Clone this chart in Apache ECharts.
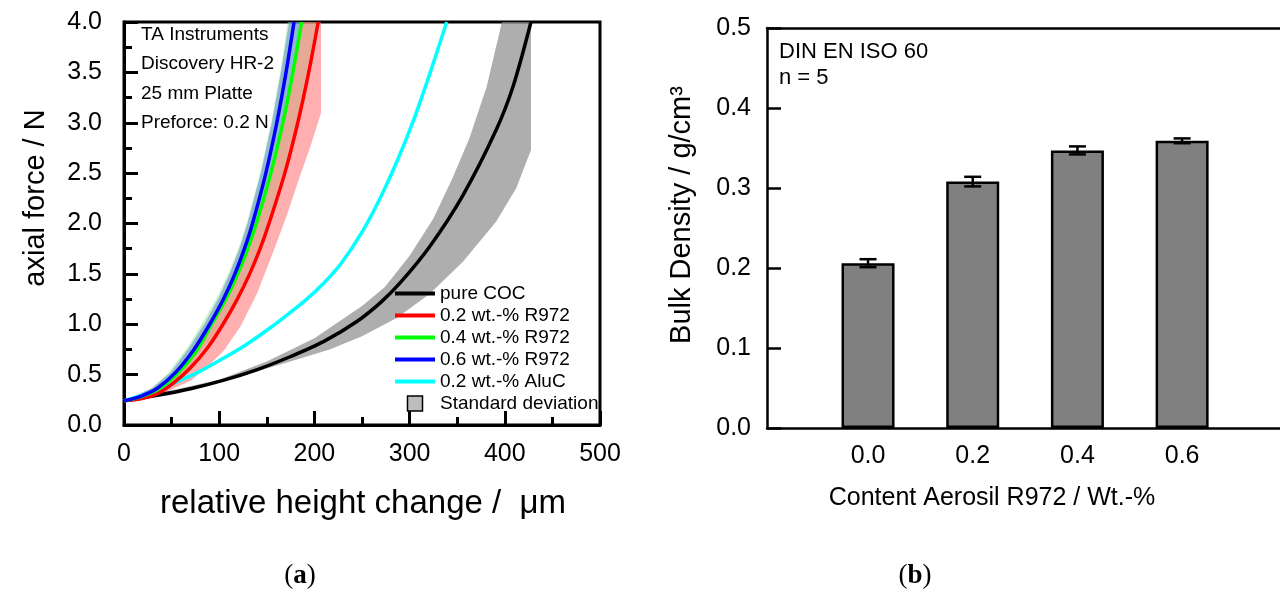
<!DOCTYPE html>
<html><head><meta charset="utf-8">
<script src="https://cdn.jsdelivr.net/npm/echarts@6/dist/echarts.min.js"></script>
<style>html,body{margin:0;padding:0;background:#fff}#c{width:1280px;height:592px}</style>
</head><body><div id="c"></div>
<script>
const FONT = '"Liberation Sans", Arial, sans-serif';
const SERIF = '"Liberation Serif", "DejaVu Serif", serif';

// ---------- Panel (a): axial force vs relative height change ----------
const seriesNames = ['pure COC', '0.2 wt.-% R972', '0.4 wt.-% R972', '0.6 wt.-% R972', '0.2 wt.-% AluC'];
const seriesColors = ['#000000', '#ff0000', '#00ff00', '#0000ff', '#00ffff'];
const stdLabel = 'Standard deviation';
const annotationA = ['TA Instruments', 'Discovery HR-2', '25 mm Platte', 'Preforce: 0.2 N'];

const pureCOC = [[0,0.24],[35,0.295],[70,0.36],[105,0.445],[140,0.55],[175,0.68],[210,0.83],[245,1.03],[270,1.22],[290,1.41],[321,1.77],[356,2.28],[391,2.93],[409,3.37],[427.5,4.0]];
const r972_02 = [[0,0.24],[17.5,0.26],[35,0.31],[52.5,0.42],[70,0.57],[88,0.77],[104,1.0],[119,1.25],[132,1.5],[143,1.75],[152.3,2.0],[168.9,2.5],[182.5,3.0],[194,3.5],[204,4.0]];
const r972_04 = [[0,0.24],[17.5,0.28],[35,0.35],[55,0.50],[75,0.72],[92,1.0],[107,1.25],[119.5,1.5],[130,1.75],[139,2.0],[154.3,2.5],[166.9,3.0],[177.4,3.5],[186.6,4.0]];
const r972_06 = [[0,0.24],[17.5,0.285],[35,0.365],[54,0.52],[73.5,0.75],[90,1.0],[104.5,1.25],[116.5,1.5],[126.5,1.75],[135,2.0],[149,2.5],[160.5,3.0],[170.2,3.5],[178.6,4.0]];
const aluC_02 = [[0,0.24],[24,0.31],[48,0.40],[75,0.51],[101,0.645],[127,0.79],[153,0.96],[175,1.12],[192,1.25],[210,1.41],[227,1.59],[251,1.93],[269,2.25],[286,2.60],[304,3.02],[321,3.48],[339,4.0]];

// standard deviation bands: upper (left) edge and lower (right) edge
const sdCOC_up = [[0,0.24],[100,0.45],[150,0.63],[200,0.86],[250,1.18],[274,1.37],[300,1.68],[325,2.05],[345,2.45],[363,2.85],[381,3.36],[397,4.0],[427.5,4.0]];
const sdCOC_lo = [[0,0.24],[100,0.42],[150,0.56],[185,0.66],[216,0.75],[250,0.88],[286,1.06],[321,1.30],[356,1.62],[391,2.02],[412,2.35],[427.5,2.73]];
const sd02_up = [[0,0.24],[35,0.34],[55,0.48],[75,0.70],[92,0.97],[107,1.22],[119.5,1.47],[130,1.72],[139,1.97],[154,2.47],[166.5,2.97],[177,3.47],[186,4.0],[207,4.0]];
const sd02_lo = [[0,0.24],[35,0.29],[70,0.44],[88,0.58],[105,0.74],[122.5,0.98],[140,1.31],[157.6,1.74],[171,2.08],[184,2.45],[197,2.80],[207,3.1]];
const sd04_up = [[0,0.24],[28,0.36],[46,0.51],[66,0.76],[83,1.02],[98,1.27],[110.5,1.52],[121,1.77],[129.5,2.02],[143.5,2.52],[155,3.02],[164.5,3.52],[172,4.0]];
const sd04_lo = [[0,0.24],[35,0.32],[52.5,0.44],[70,0.60],[88,0.81],[102,1.0],[117,1.25],[130,1.5],[141,1.75],[150.3,2.0],[167,2.5],[180.5,3.0],[192,3.5],[202,4.0]];
const sd06_up = [[0,0.24],[30,0.37],[49,0.52],[68,0.76],[85,1.01],[99.5,1.26],[111.5,1.51],[121.5,1.76],[130,2.01],[144,2.51],[155.5,3.01],[165,3.51],[173.5,4.0]];
const sd06_lo = r972_04;

// ---------- Panel (b): bulk density ----------
const contents = [0.0, 0.2, 0.4, 0.6];
const bulkDensity = [0.206, 0.308, 0.347, 0.359];
const bulkErr = [0.005, 0.006, 0.005, 0.003];
const annotationB = ['DIN EN ISO 60', 'n = 5'];

const chart = echarts.init(document.getElementById('c'), null, {renderer: 'canvas'});

function band(name, up, lo, fill, z) {
  return {
    type: 'custom', name: name, xAxisIndex: 0, yAxisIndex: 0, data: [[0, 0]], z: z, silent: true, clip: true,
    itemStyle: {color: '#bdbdbd'},
    renderItem: function (params, api) {
      const pts = up.map(p => api.coord(p)).concat(lo.slice().reverse().map(p => api.coord(p)));
      return {type: 'polygon', shape: {points: pts}, style: {fill: fill, stroke: null}};
    }
  };
}
function line(i, data) {
  return {type: 'line', name: seriesNames[i], xAxisIndex: 0, yAxisIndex: 0, data: data, symbol: 'none', showSymbol: false,
    smooth: 0.3, clip: true, z: 5,
    lineStyle: {color: seriesColors[i], width: 3.5}, itemStyle: {color: seriesColors[i]}};
}

const legendData = seriesNames.map((n, i) => ({name: n, icon: 'path://M0,0L40,0L40,4L0,4Z',
  itemStyle: {color: seriesColors[i], borderWidth: 0}}))
  .concat([{name: stdLabel, icon: 'path://M0,0L10,0L10,10L0,10Z',
    itemStyle: {color: '#bdbdbd', borderColor: '#000', borderWidth: 1.5}}]);

const option = {
  animation: false,
  backgroundColor: '#fff',
  grid: [
    {left: 124, right: 680, top: 22, bottom: 167, show: true, borderColor: '#000', borderWidth: 3, containLabel: false},
    {left: 767, right: 0, top: 28, bottom: 164, containLabel: false}
  ],
  xAxis: [
    {type: 'value', gridIndex: 0, min: 0, max: 500, interval: 100,
      axisLine: {show: true, onZero: false, lineStyle: {color: '#000', width: 3}},
      axisTick: {show: true, inside: true, length: 14, lineStyle: {color: '#000', width: 3}},
      minorTick: {show: true, splitNumber: 2, length: 8, lineStyle: {color: '#000', width: 3}},
      axisLabel: {fontSize: 25, fontFamily: FONT, color: '#000', margin: 17},
      splitLine: {show: false}},
    {type: 'value', gridIndex: 1, min: -0.193, max: 0.787,
      axisLine: {show: true, onZero: false, lineStyle: {color: '#000', width: 2.5}},
      axisTick: {show: false},
      axisLabel: {customValues: contents, fontSize: 25, fontFamily: FONT, color: '#000', margin: 16,
        formatter: v => v.toFixed(1)},
      splitLine: {show: false}},
    {type: 'value', gridIndex: 1, position: 'top', min: -0.193, max: 0.787,
      axisLine: {show: true, onZero: false, lineStyle: {color: '#000', width: 2.5}},
      axisTick: {show: false}, axisLabel: {show: false}, splitLine: {show: false}}
  ],
  yAxis: [
    {type: 'value', gridIndex: 0, min: 0, max: 4, interval: 0.5,
      axisLine: {show: true, onZero: false, lineStyle: {color: '#000', width: 3}},
      axisTick: {show: true, inside: true, length: 14, lineStyle: {color: '#000', width: 3}},
      minorTick: {show: true, splitNumber: 2, length: 8, lineStyle: {color: '#000', width: 3}},
      axisLabel: {fontSize: 25, fontFamily: FONT, color: '#000', margin: 22, formatter: v => v.toFixed(1)},
      splitLine: {show: false}},
    {type: 'value', gridIndex: 1, min: 0, max: 0.5, interval: 0.1,
      axisLine: {show: true, onZero: false, lineStyle: {color: '#000', width: 2.5}},
      axisTick: {show: true, inside: true, length: 14, lineStyle: {color: '#000', width: 2.5}},
      axisLabel: {fontSize: 25, fontFamily: FONT, color: '#000', margin: 16, formatter: v => v.toFixed(1)},
      splitLine: {show: false}}
  ],
  legend: {
    left: 390, top: 279, orient: 'vertical', itemWidth: 40, itemHeight: 15, itemGap: 3,
    selectedMode: false, textStyle: {fontSize: 19, fontFamily: FONT, color: '#000'},
    data: legendData
  },
  series: [
    band('sd04', sd04_up, sd04_lo, 'rgba(130,225,130,0.45)', 1),
    band('sd02', sd02_up, sd02_lo, 'rgba(255,110,110,0.55)', 2),
    band('sd06', sd06_up, sd06_lo, 'rgba(80,120,220,0.45)', 3),
    band(stdLabel, sdCOC_up, sdCOC_lo, 'rgba(140,140,140,0.7)', 3),
    line(0, pureCOC),
    line(4, aluC_02),
    line(1, r972_02),
    line(2, r972_04),
    line(3, r972_06),
    {type: 'bar', name: 'Bulk Density', xAxisIndex: 1, yAxisIndex: 1,
      data: contents.map((c, i) => [c, bulkDensity[i]]), barWidth: 53,
      itemStyle: {color: '#808080', borderColor: '#000', borderWidth: 2.5}},
    {type: 'custom', name: 'err', xAxisIndex: 1, yAxisIndex: 1, z: 10,
      data: contents.map((c, i) => [c, bulkDensity[i], bulkErr[i]]),
      encode: {x: 0, y: 1},
      renderItem: function (params, api) {
        const x = api.value(0), m = api.value(1), e = api.value(2);
        const t = api.coord([x, m + e]), b = api.coord([x, m - e]);
        const hw = 8.5, st = {stroke: '#000', lineWidth: 2.5};
        return {type: 'group', children: [
          {type: 'line', shape: {x1: t[0], y1: t[1], x2: b[0], y2: b[1]}, style: st},
          {type: 'line', shape: {x1: t[0] - hw, y1: t[1], x2: t[0] + hw, y2: t[1]}, style: st},
          {type: 'line', shape: {x1: b[0] - hw, y1: b[1], x2: b[0] + hw, y2: b[1]}, style: st}
        ]};
      }}
  ],
  graphic: [].concat(
    annotationA.map((t, i) => ({type: 'text', x: 141, y: [35, 64, 94, 123][i], z: 20,
      style: {text: t, fontSize: 19, fontFamily: FONT, fill: '#000', align: 'left', verticalAlign: 'middle'}})),
    annotationB.map((t, i) => ({type: 'text', x: 779, y: [52, 78][i], z: 20,
      style: {text: t, fontSize: 22, fontFamily: FONT, fill: '#000', align: 'left', verticalAlign: 'middle'}})),
    [
      {type: 'text', x: 36, y: 198, rotation: Math.PI / 2,
        style: {text: 'axial force / N', fontSize: 29, fontFamily: FONT, fill: '#000', align: 'center', verticalAlign: 'middle'}},
      {type: 'text', x: 363, y: 504,
        style: {text: 'relative height change /  \u03bcm', fontSize: 33, fontFamily: FONT, fill: '#000', align: 'center', verticalAlign: 'middle'}},
      {type: 'text', x: 682, y: 215, rotation: Math.PI / 2,
        style: {text: 'Bulk Density / g/cm\u00b3', fontSize: 29, fontFamily: FONT, fill: '#000', align: 'center', verticalAlign: 'middle'}},
      {type: 'text', x: 992, y: 498,
        style: {text: 'Content Aerosil R972 / Wt.-%', fontSize: 25, fontFamily: FONT, fill: '#000', align: 'center', verticalAlign: 'middle'}},
      {type: 'text', x: 300, y: 576,
        style: {text: '({b|a})', fontSize: 27, fontFamily: SERIF, fill: '#000', align: 'center', verticalAlign: 'middle',
          rich: {b: {fontSize: 27, fontFamily: SERIF, fontWeight: 'bold', fill: '#000'}}}},
      {type: 'text', x: 915, y: 576,
        style: {text: '({b|b})', fontSize: 27, fontFamily: SERIF, fill: '#000', align: 'center', verticalAlign: 'middle',
          rich: {b: {fontSize: 27, fontFamily: SERIF, fontWeight: 'bold', fill: '#000'}}}}
    ]
  )
};
chart.setOption(option);
</script>
</body></html>
